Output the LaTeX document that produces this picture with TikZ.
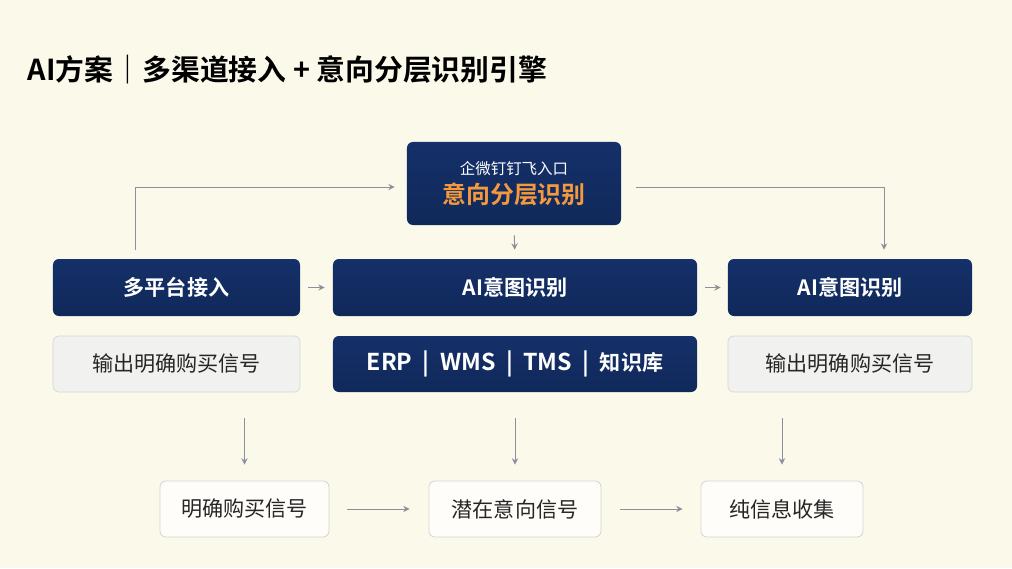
\documentclass[tikz,border=0pt]{standalone}
\usepackage{fontspec}
\setmainfont{Noto Sans CJK SC}[BoldFont={Noto Sans CJK SC Bold}]
\usetikzlibrary{positioning,arrows.meta}

\definecolor{paper}{HTML}{FBF9EA}
\definecolor{navy}{HTML}{10295A}
\definecolor{navytop}{HTML}{15306A}
\definecolor{amber}{HTML}{F59A3C}
\definecolor{wire}{HTML}{8C8F9C}
\definecolor{softgray}{HTML}{F1F1F0}
\definecolor{rimgray}{HTML}{D6D6D4}

\newcommand{\sysbar}{\hspace{0.45em}|\hspace{0.45em}}

\begin{document}
\begin{tikzpicture}[
    x=0.025cm, y=-0.025cm,
    darkbox/.style={
        rectangle,
        top color=navytop,
        bottom color=navy,
        rounded corners=1.5mm,
        minimum height=1.425cm,
        text=white,
        font=\fontsize{15}{18}\selectfont\bfseries,
        text centered,
        inner sep=0pt
    },
    lightbox/.style={
        rectangle,
        fill=softgray,
        draw=rimgray,
        line width=0.5pt,
        rounded corners=1.5mm,
        minimum height=1.4cm,
        text=black!85,
        font=\fontsize{15}{18}\selectfont,
        text centered,
        inner sep=0pt
    },
    signal/.style={
        rectangle,
        fill=white!70!paper,
        draw=rimgray,
        line width=0.6pt,
        rounded corners=1.5mm,
        minimum height=1.4cm,
        text=black!85,
        font=\fontsize{15}{18}\selectfont,
        text centered,
        inner sep=0pt
    },
    arr/.style={
        draw=wire,
        line width=0.7pt,
        -{Stealth[length=4.5pt,width=4.5pt]}
    }
]
    % page
    \fill[paper] (0,0) rectangle (1012,568);
    \useasboundingbox (0,0) rectangle (1012,568);

    \node (title) [anchor=west, font=\fontsize{20.5}{24}\selectfont\bfseries]
        at (23,70) {AI方案｜多渠道接入 + 意向分层识别引擎};

    % entry and intent
    \node (intent) [darkbox, minimum width=5.35cm, minimum height=2.075cm, align=center]
        at (514,183.5)
        {{\fontsize{11}{13}\selectfont\mdseries 企微钉钉飞入口}\\[3pt]
         {\fontsize{17}{20}\selectfont\bfseries\color{amber}意向分层识别}};

    % first row
    \node (platform) [darkbox, minimum width=6.175cm] at (176.5,287.5) {多平台接入};
    \node (aimid) [darkbox, minimum width=9.1cm] at (515,287.5) {AI意图识别};
    \node (airight) [darkbox, minimum width=6.1cm] at (850,287.5) {AI意图识别};

    % second row
    \node (outleft) [lightbox, minimum width=6.175cm] at (176.5,364) {输出明确购买信号};
    \node (systems) [darkbox, minimum width=9.1cm, minimum height=1.4cm] at (515,364)
        {{\fontsize{16.5}{18}\selectfont ERP\sysbar WMS\sysbar TMS\sysbar}知识库};
    \node (outright) [lightbox, minimum width=6.1cm] at (850,364) {输出明确购买信号};

    % signals
    \node (buy) [signal, minimum width=4.225cm] at (244.5,509) {明确购买信号};
    \node (latent) [signal, minimum width=4.3cm] at (515,509) {潜在意向信号};
    \node (collect) [signal, minimum width=4.05cm] at (782,509) {纯信息收集};

    % connectors
    \coordinate (turnL) at (135,187);
    \coordinate (turnR) at (884,187);
    \draw[arr, shorten <=0.225cm, shorten >=0.3cm]
        (turnL |- platform.north) -- (turnL) -- (turnL -| intent.west);
    \draw[arr, shorten <=0.375cm, shorten >=0.225cm]
        (turnR -| intent.east) -- (turnR) -- (turnR |- airight.north);
    \draw[arr, shorten <=0.25cm, shorten >=0.225cm] (intent.south) -- (aimid.north);

    \draw[arr, shorten <=0.2cm, shorten >=0.2cm] (platform.east) -- (aimid.west);
    \draw[arr, shorten <=0.2cm, shorten >=0.175cm] (aimid.east) -- (airight.west);

    \draw[arr, shorten <=0.65cm, shorten >=0.4cm] (buy.north |- outleft.south) -- (buy.north);
    \draw[arr, shorten <=0.65cm, shorten >=0.4cm] (latent.north |- systems.south) -- (latent.north);
    \draw[arr, shorten <=0.65cm, shorten >=0.4cm] (collect.north |- outright.south) -- (collect.north);

    \draw[arr, shorten <=0.45cm, shorten >=0.475cm] (buy.east) -- (latent.west);
    \draw[arr, shorten <=0.475cm, shorten >=0.45cm] (latent.east) -- (collect.west);
\end{tikzpicture}
\end{document}
